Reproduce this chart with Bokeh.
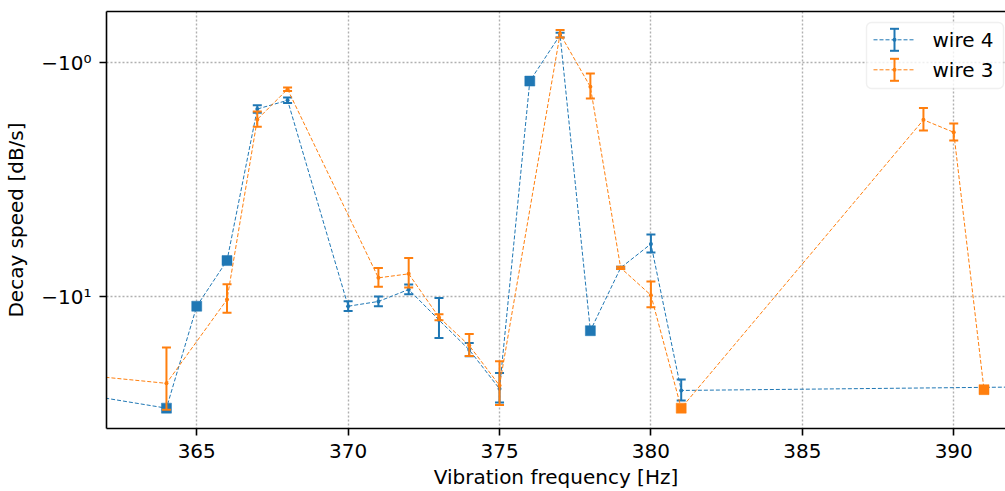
import numpy as np
from bokeh.plotting import figure
from bokeh.models import (ColumnDataSource, Range1d, LinearScale, FixedTicker,
                          BoxAnnotation, LinearAxis)
from bokeh.core.properties import value
from bokeh.embed import file_html
from bokeh.resources import INLINE

nan = float("nan")

# Decay speed (dB/s, negative) against vibration frequency; NaN error = no fit uncertainty
freq_w4 = [361, 364, 365, 366, 367, 368, 370, 371, 372, 373, 374, 375, 376, 377, 378, 379, 380, 381, 393]
decay_w4 = [-25.9, -30.0, -11.0, -7.02, -1.58, -1.45, -11.0, -10.5, -9.33, -12.6, -16.9, -24.8,
            -1.20, -0.763, -14.0, -7.54, -5.96, -25.2, -24.3]
err_w4 = [nan, nan, nan, nan, 0.057, 0.04, 0.52, 0.5, 0.45, 2.45, 1.1, 3.6,
          nan, 0.018, nan, 0.08, 0.53, 2.6, nan]

freq_w3 = [361, 364, 366, 367, 368, 371, 372, 373, 374, 375, 377, 378, 379, 380, 381, 389, 390, 391]
decay_w3 = [-21.5, -23.5, -10.3, -1.75, -1.30, -8.32, -8.0, -12.26, -16.2, -24.0,
            -0.754, -1.27, -7.54, -9.87, -30.0, -1.757, -1.986, -25.0]
err_w3 = [nan, 7.0, 1.43, 0.13, 0.022, 0.76, 1.15, 0.36, 1.75, 5.1,
          0.028, 0.155, 0.08, 1.24, nan, 0.195, 0.165, nan]

x_ticks = [365, 370, 375, 380, 385, 390]
y_ticks = [1, 10]
y_tick_labels = {1: "\u221210\u2070", 10: "\u221210\u00b9"}

BLUE = "#1f77b4"
ORANGE = "#ff7f0e"
FONT = "DejaVu Sans"
FS = "20px"

p = figure(width=1005, height=491, output_backend="svg", toolbar_location=None,
           x_range=Range1d(362.02, 391.71), y_range=Range1d(36.65, 0.605),
           y_axis_type="log",
           min_border_left=106, min_border_right=0, min_border_top=11, min_border_bottom=63)
p.outline_line_color = None
p.background_fill_color = "white"
p.border_fill_color = "white"

xax = p.below[0]
yax = p.left[0]

xax.ticker = FixedTicker(ticks=x_ticks)
yax.ticker = FixedTicker(ticks=y_ticks)
p.xgrid.ticker = FixedTicker(ticks=x_ticks)
p.ygrid.ticker = FixedTicker(ticks=y_ticks)
yax.major_label_overrides = y_tick_labels

for ax in (xax, yax):
    ax.axis_line_color = "black"
    ax.axis_line_width = 1.6
    ax.major_tick_line_color = "black"
    ax.major_tick_line_width = 1.6
    ax.major_tick_out = 7
    ax.major_tick_in = 0
    ax.minor_tick_line_color = None
    ax.major_label_text_font = FONT
    ax.major_label_text_font_size = FS
    ax.major_label_text_color = "black"
    ax.axis_label_text_font = FONT
    ax.axis_label_text_font_size = FS
    ax.axis_label_text_font_style = "normal"
    ax.axis_label_text_color = "black"

xax.axis_label = "Vibration frequency [Hz]"
yax.axis_label = "Decay speed [dB/s]"
xax.major_label_standoff = 8
xax.axis_label_standoff = 4
yax.major_label_standoff = 8
yax.axis_label_standoff = 10

# top spine
top = LinearAxis(ticker=FixedTicker(ticks=[]), axis_line_color="black", axis_line_width=1.6,
                 major_tick_line_color=None, minor_tick_line_color=None,
                 major_label_text_font_size="0px", major_label_standoff=0,
                 major_tick_out=0, major_tick_in=0)
p.add_layout(top, "above")

for g in (p.xgrid, p.ygrid):
    g.grid_line_color = "#b0b0b0"
    g.grid_line_width = 1.4
    g.grid_line_dash = "2 2"


def draw_series(freq, decay, err, color):
    f = np.array(freq, dtype=float)
    d = np.array(decay, dtype=float)
    e = np.array(err, dtype=float)
    mag = -d  # log axis of the magnitude, labelled with the negative sign
    p.line(f, mag, line_color=color, line_width=1.0, line_dash="4 2")
    has = ~np.isnan(e)
    src = ColumnDataSource(dict(x=f[has], y=mag[has], lo=mag[has] - e[has], hi=mag[has] + e[has]))
    p.segment(x0="x", y0="lo", x1="x", y1="hi", source=src, line_color=color, line_width=2)
    p.scatter("x", "lo", marker="dash", size=9, line_color=color, line_width=2, source=src)
    p.scatter("x", "hi", marker="dash", size=9, line_color=color, line_width=2, source=src)
    p.scatter("x", "y", marker="circle", size=4, fill_color=color, line_color=None, source=src)
    sq = ColumnDataSource(dict(x=f[~has], y=mag[~has]))
    p.scatter("x", "y", marker="square", size=10, fill_color=color, line_color=color,
              line_width=0.5, source=sq)


draw_series(freq_w4, decay_w4, err_w4, BLUE)
draw_series(freq_w3, decay_w3, err_w3, ORANGE)

# legend drawn in frame pixel coordinates
p.extra_x_ranges = {"px": Range1d(106, 1005)}
p.extra_y_ranges = {"px": Range1d(428, 11)}
p.extra_x_scales = {"px": LinearScale()}
p.extra_y_scales = {"px": LinearScale()}

p.add_layout(BoxAnnotation(left=866, right=1003, top=22, bottom=88,
                           x_range_name="px", y_range_name="px",
                           fill_color="white", fill_alpha=0.8,
                           line_color="#cccccc", line_width=1.4, border_radius=5))

for label, color, ry in (("wire 4", BLUE, 39.3), ("wire 3", ORANGE, 69.3)):
    kw = dict(x_range_name="px", y_range_name="px", level="overlay")
    p.line([873, 915], [ry, ry], line_color=color, line_width=1.0, line_dash="4 2", **kw)
    p.segment(x0=[894], y0=[ry - 11], x1=[894], y1=[ry + 11], line_color=color, line_width=2, **kw)
    p.scatter([894, 894], [ry - 11, ry + 11], marker="dash", size=9, line_color=color,
              line_width=2, **kw)
    p.scatter([894], [ry], marker="circle", size=4, fill_color=color, line_color=None, **kw)
    p.text([932], [ry], text=[label], text_font=value(FONT), text_font_size=FS,
           text_baseline="middle", text_align="left", text_color="black", **kw)

open("out.html", "w").write(file_html(p, INLINE))
